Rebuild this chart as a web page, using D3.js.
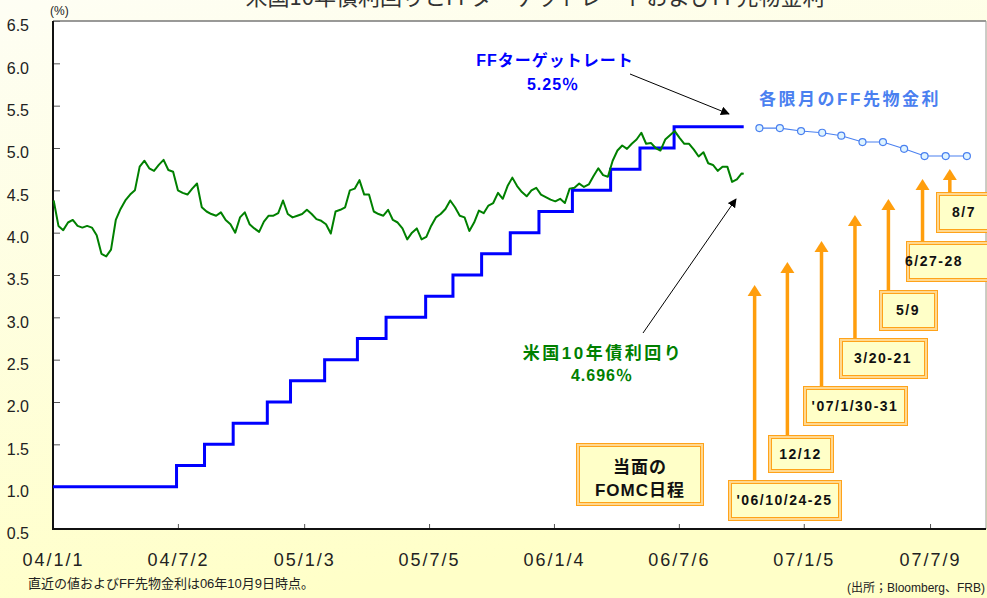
<!DOCTYPE html>
<html>
<head>
<meta charset="utf-8">
<script src="https://cdn.jsdelivr.net/npm/d3@7"></script>
<style>
    body { margin: 0; background: #fff; }
    svg { display: block; font-family: "Liberation Sans", Arial, "Noto Sans CJK JP", sans-serif; }
</style>
</head>
<body>
<svg id="chart" width="987" height="598"></svg>
<script>
// ---- data ----
var tickDates = ["2004-01-01", "2004-07-02", "2005-01-03", "2005-07-05",
                 "2006-01-04", "2006-07-06", "2007-01-05", "2007-07-09"];
var tickLabels = ["04/1/1", "04/7/2", "05/1/3", "05/7/5",
                  "06/1/4", "06/7/6", "07/1/5", "07/7/9"];
var yTicks = [0.5, 1.0, 1.5, 2.0, 2.5, 3.0, 3.5, 4.0, 4.5, 5.0, 5.5, 6.0, 6.5];

// FF target rate (step changes)
var ffDates = ["2004-01-01", "2004-06-30", "2004-08-10", "2004-09-21", "2004-11-10",
               "2004-12-14", "2005-02-02", "2005-03-22", "2005-05-03", "2005-06-30",
               "2005-08-09", "2005-09-20", "2005-11-01", "2005-12-13", "2006-01-31",
               "2006-03-28", "2006-05-10", "2006-06-29", "2006-10-09"];
var ffRates = [1.00, 1.25, 1.50, 1.75, 2.00, 2.25, 2.50, 2.75, 3.00, 3.25,
               3.50, 3.75, 4.00, 4.25, 4.50, 4.75, 5.00, 5.25, 5.25];

// FF futures by contract month
var futDates = ["2006-11-01", "2006-12-01", "2007-01-01", "2007-02-01", "2007-03-01", "2007-04-01",
                "2007-05-01", "2007-06-01", "2007-07-01", "2007-08-01", "2007-09-01"];
var futRates = [5.235, 5.235, 5.20, 5.18, 5.145, 5.07, 5.07, 4.99, 4.905, 4.905, 4.905];

// US 10y yield, weekly from 2004-01-02, plus last value on 2006-10-09
var bondStart = "2004-01-02";
var bondWeekly = [
    4.38, 4.08, 4.03, 4.12, 4.15, 4.08, 4.06, 4.08, 4.06, 3.97,
    3.75, 3.72, 3.80, 4.15, 4.28, 4.38, 4.45, 4.50, 4.78, 4.85,
    4.76, 4.73, 4.80, 4.86, 4.74, 4.72, 4.50, 4.47, 4.45, 4.52,
    4.58, 4.30, 4.25, 4.22, 4.20, 4.24, 4.15, 4.10, 4.00, 4.18,
    4.24, 4.10, 4.05, 4.01, 4.13, 4.20, 4.20, 4.23, 4.38, 4.22,
    4.18, 4.20, 4.22, 4.27, 4.22, 4.16, 4.14, 4.10, 3.99, 4.25,
    4.27, 4.30, 4.50, 4.52, 4.62, 4.45, 4.45, 4.25, 4.22, 4.20,
    4.27, 4.15, 4.12, 4.05, 3.92, 4.00, 4.05, 3.92, 3.95, 4.08,
    4.18, 4.22, 4.28, 4.38, 4.30, 4.20, 4.18, 4.02, 4.12, 4.26,
    4.23, 4.32, 4.35, 4.47, 4.40, 4.55, 4.65, 4.55, 4.48, 4.43,
    4.50, 4.53, 4.45, 4.42, 4.39, 4.37, 4.40, 4.35, 4.52, 4.53,
    4.58, 4.54, 4.57, 4.67, 4.76, 4.68, 4.66, 4.85, 4.97, 5.03,
    4.99, 5.05, 5.10, 5.18, 5.05, 5.06, 5.00, 4.97, 5.10, 5.15,
    5.20, 5.12, 5.05, 5.05, 4.98, 4.90, 4.95, 4.82, 4.80, 4.73,
    4.78, 4.78, 4.60, 4.63, 4.70
];
var bondLastDate = "2006-10-09";
var bondLast = 4.696;

// upcoming FOMC meetings
var fomcDates = ["2006-10-25", "2006-12-12", "2007-01-31", "2007-03-21",
                 "2007-05-09", "2007-06-28", "2007-08-07"];
var fomcLabels = ["'06/10/24-25", "12/12", "'07/1/30-31", "3/20-21",
                  "5/9", "6/27-28", "8/7"];

// ---- layout ----
var W = 987, H = 598;
var plot = {left: 53, right: 986, top: 21, bottom: 529};
var parse = d3.utcParse("%Y-%m-%d");

// box geometry for each FOMC label: [x, y, w, h, arrow tip y]
var fomcBoxes = [
    [728, 480, 113, 40, 285],
    [768, 435, 65, 37, 262],
    [803, 386, 104, 39, 241],
    [839, 338, 88, 40, 215],
    [879, 290, 58, 40, 199],
    [906, 241, 86, 40, 179],
    [936, 192, 56, 40, 169]
];

var svg = d3.select("#chart");

var defs = svg.append("defs");
var grad = defs.append("linearGradient")
    .attr("id", "bg").attr("x1", 0).attr("y1", 0).attr("x2", 0.3).attr("y2", 1);
grad.append("stop").attr("offset", 0).attr("stop-color", "#fefef4");
grad.append("stop").attr("offset", 1).attr("stop-color", "#ffffc8");

defs.append("marker")
    .attr("id", "arrowBlack")
    .attr("viewBox", "0 0 10 10")
    .attr("refX", 9).attr("refY", 5)
    .attr("markerWidth", 9).attr("markerHeight", 9)
    .attr("markerUnits", "userSpaceOnUse")
    .attr("orient", "auto")
    .append("path").attr("d", "M0,0 L10,5 L0,10 Z").attr("fill", "#000");

svg.append("rect").attr("width", W).attr("height", H).attr("fill", "url(#bg)");
svg.append("rect")
    .attr("x", plot.left).attr("y", plot.top)
    .attr("width", plot.right - plot.left).attr("height", plot.bottom - plot.top)
    .attr("fill", "#fff");

var x = d3.scaleUtc()
    .domain([parse("2004-01-01"), parse("2007-09-29")])
    .range([plot.left, plot.right]);
var y = d3.scaleLinear()
    .domain([0.5, 6.5])
    .range([plot.bottom, plot.top]);

// title (clipped at the top edge like the original)
svg.append("text")
    .attr("x", 535).attr("y", 5)
    .attr("text-anchor", "middle")
    .attr("font-family", "'Noto Sans CJK JP', sans-serif")
    .attr("font-size", 22)
    .attr("fill", "#333")
    .text("米国10年債利回りとFFターゲットレートおよびFF先物金利");

svg.append("text")
    .attr("x", 50).attr("y", 15)
    .attr("font-size", 12).attr("fill", "#222")
    .text("(%)");

// y axis
var yAxis = d3.axisLeft(y)
    .tickValues(yTicks)
    .tickSize(-7)
    .tickPadding(24)
    .tickFormat(d3.format(".1f"));
var yAxisG = svg.append("g")
    .attr("transform", "translate(" + plot.left + ",0)")
    .call(yAxis);
yAxisG.select(".domain").remove();
yAxisG.selectAll(".tick line").attr("stroke", "#555");
yAxisG.selectAll(".tick text")
    .attr("font-size", 16).attr("fill", "#222")
    .attr("font-family", "'Liberation Sans', Arial, sans-serif")
    .attr("dy", "0.62em");

// x axis
var xAxis = d3.axisBottom(x)
    .tickValues(tickDates.map(parse))
    .tickSize(-5)
    .tickPadding(24)
    .tickFormat(function (d, i) { return tickLabels[i]; });
var xAxisG = svg.append("g")
    .attr("transform", "translate(0," + plot.bottom + ")")
    .call(xAxis);
xAxisG.select(".domain").remove();
xAxisG.selectAll(".tick line").attr("stroke", "#555");
xAxisG.selectAll(".tick text")
    .attr("font-size", 18).attr("fill", "#222")
    .attr("letter-spacing", 2)
    .attr("font-family", "'Liberation Sans', Arial, sans-serif");

// frame
svg.append("line")
    .attr("x1", plot.left).attr("x2", plot.right)
    .attr("y1", plot.top).attr("y2", plot.top)
    .attr("stroke", "#777").attr("stroke-width", 1.5);
svg.append("line")
    .attr("x1", plot.right).attr("x2", plot.right)
    .attr("y1", plot.top).attr("y2", plot.bottom)
    .attr("stroke", "#999").attr("stroke-width", 1);
svg.append("line")
    .attr("x1", plot.left).attr("x2", plot.left)
    .attr("y1", plot.top).attr("y2", plot.bottom + 1)
    .attr("stroke", "#111").attr("stroke-width", 2);
svg.append("line")
    .attr("x1", plot.left).attr("x2", plot.right)
    .attr("y1", plot.bottom).attr("y2", plot.bottom)
    .attr("stroke", "#111").attr("stroke-width", 2);

// FF target rate
var ffData = ffDates.map(function (d, i) { return {date: parse(d), v: ffRates[i]}; });
svg.append("path")
    .datum(ffData)
    .attr("fill", "none")
    .attr("stroke", "#0000ff")
    .attr("stroke-width", 3)
    .attr("d", d3.line()
        .curve(d3.curveStepAfter)
        .x(function (d) { return x(d.date); })
        .y(function (d) { return y(d.v); }));

// 10y yield
var start = parse(bondStart);
var bondData = bondWeekly.map(function (v, i) {
    return {date: d3.utcDay.offset(start, i * 7), v: v};
});
bondData.push({date: parse(bondLastDate), v: bondLast});
svg.append("path")
    .datum(bondData)
    .attr("fill", "none")
    .attr("stroke", "#008000")
    .attr("stroke-width", 2)
    .attr("stroke-linejoin", "round")
    .attr("d", d3.line()
        .x(function (d) { return x(d.date); })
        .y(function (d) { return y(d.v); }));

// FF futures
var futData = futDates.map(function (d, i) { return {date: parse(d), v: futRates[i]}; });
svg.append("path")
    .datum(futData)
    .attr("fill", "none")
    .attr("stroke", "#4a80f0")
    .attr("stroke-width", 1.1)
    .attr("d", d3.line()
        .x(function (d) { return x(d.date); })
        .y(function (d) { return y(d.v); }));
svg.selectAll("circle.fut")
    .data(futData)
    .enter().append("circle")
    .attr("class", "fut")
    .attr("cx", function (d) { return x(d.date); })
    .attr("cy", function (d) { return y(d.v); })
    .attr("r", 3.5)
    .attr("fill", "#dff4ff")
    .attr("stroke", "#4a80f0")
    .attr("stroke-width", 1.2);

// annotations
function label(txt, cx, by, size, color, spacing) {
    svg.append("text")
        .attr("x", cx).attr("y", by)
        .attr("text-anchor", "middle")
        .attr("font-size", size)
        .attr("font-weight", "bold")
        .attr("letter-spacing", spacing)
        .attr("fill", color)
        .text(txt);
}
label("FFターゲットレート", 555, 66, 16, "#0000ff", 1);
label("5.25％", 553, 90, 16, "#0000ff", 1);
label("各限月のFF先物金利", 850, 105, 17, "#4a80f0", 2.5);
label("米国10年債利回り", 603, 359, 17, "#008000", 2.5);
label("4.696％", 602, 381, 16, "#008000", 1);

svg.append("line")
    .attr("x1", 630).attr("y1", 74).attr("x2", 729).attr("y2", 114)
    .attr("stroke", "#000").attr("stroke-width", 1)
    .attr("marker-end", "url(#arrowBlack)");
svg.append("line")
    .attr("x1", 643).attr("y1", 333).attr("x2", 736).attr("y2", 199)
    .attr("stroke", "#000").attr("stroke-width", 1)
    .attr("marker-end", "url(#arrowBlack)");

// FOMC boxes and arrows
function box(bx, by, bw, bh) {
    svg.append("rect")
        .attr("x", bx + 0.5).attr("y", by + 0.5)
        .attr("width", bw).attr("height", bh)
        .attr("fill", "#ffffc8")
        .attr("stroke", "#ffa31a").attr("stroke-width", 1);
    svg.append("rect")
        .attr("x", bx + 3.5).attr("y", by + 3.5)
        .attr("width", bw - 6).attr("height", bh - 6)
        .attr("fill", "none")
        .attr("stroke", "#ffa31a").attr("stroke-width", 1);
    svg.append("rect")
        .attr("x", bx + 2).attr("y", by + 2)
        .attr("width", bw - 3).attr("height", bh - 3)
        .attr("fill", "none")
        .attr("stroke", "#ffd890").attr("stroke-width", 2);
}

var orange = "#ff9e0d";
fomcDates.forEach(function (d, i) {
    var b = fomcBoxes[i];
    var ax = x(parse(d));
    svg.append("line")
        .attr("x1", ax).attr("x2", ax)
        .attr("y1", b[1]).attr("y2", b[4] + 9)
        .attr("stroke", orange).attr("stroke-width", 3.5);
    svg.append("path")
        .attr("d", "M" + ax + "," + b[4] + " L" + (ax + 7) + "," + (b[4] + 11) +
                   " L" + (ax - 7) + "," + (b[4] + 11) + " Z")
        .attr("fill", orange);
});
fomcDates.forEach(function (d, i) {
    var b = fomcBoxes[i];
    box(b[0], b[1], b[2], b[3]);
    var cx = Math.min(b[0] + b[2] / 2, b[0] + 28);
    if (b[0] + b[2] <= W - 2) cx = b[0] + b[2] / 2;
    svg.append("text")
        .attr("x", cx).attr("y", b[1] + b[3] / 2 + 5)
        .attr("text-anchor", "middle")
        .attr("font-size", 14).attr("font-weight", "bold")
        .attr("letter-spacing", 1.5)
        .attr("fill", "#111")
        .text(fomcLabels[i]);
});

box(576, 443, 127, 62);
label("当面の", 640, 473, 17, "#111", 1);
label("FOMC日程", 640, 496, 17, "#111", 1);

// notes
svg.append("text")
    .attr("x", 28).attr("y", 588)
    .attr("font-size", 13).attr("fill", "#222")
    .text("直近の値およびFF先物金利は06年10月9日時点。");
svg.append("text")
    .attr("x", 985).attr("y", 592)
    .attr("text-anchor", "end")
    .attr("font-size", 12).attr("fill", "#222")
    .text("(出所；Bloomberg、FRB)");
</script>
</body>
</html>
